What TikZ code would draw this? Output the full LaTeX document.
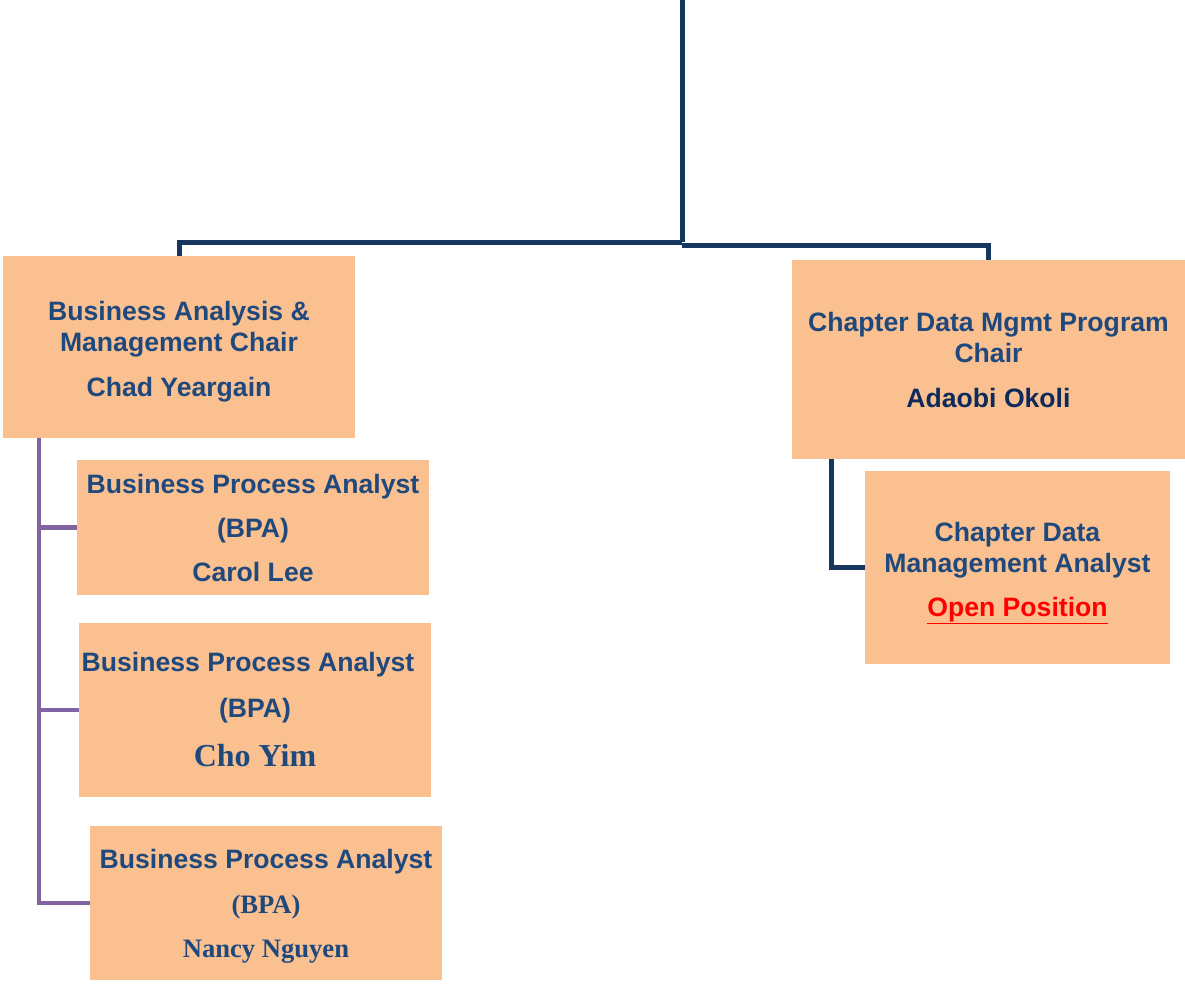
\documentclass[tikz,border=0pt]{standalone}
\usepackage{fontspec}
\setmainfont{Liberation Sans}
\newfontfamily\timesfont{Liberation Serif}
\usepackage{tikz}
\definecolor{boxfill}{HTML}{FAC090}
\definecolor{titleblue}{HTML}{1F497D}
\definecolor{nameblue}{HTML}{0E2A5C}
\definecolor{linenavy}{HTML}{17375E}
\definecolor{linepurple}{HTML}{8064A2}

\begin{document}
\begin{tikzpicture}[x=1pt, y=-1pt,
    box/.style={fill=boxfill, inner sep=0pt, align=center, text=titleblue,
        font=\bfseries\fontsize{26.6}{31}\selectfont},
    navyline/.style={draw=linenavy, line width=5pt},
    purpleline/.style={draw=linepurple, line width=4.5pt}]
    \useasboundingbox (0,0) rectangle (1185,983);

    % chairs
    \node[box, minimum width=352pt, minimum height=182pt] (bam) at (179,347)
        {\rule{0pt}{29pt}Business Analysis \&\\ Management Chair\\[14pt] Chad Yeargain};
    \node[box, minimum width=393pt, minimum height=199pt] (cdm) at (988.5,359.5)
        {Chapter Data Mgmt Program\\ Chair\\[14pt] {\color{nameblue}Adaobi Okoli}};

    % analysts
    \node[box, minimum width=352pt, minimum height=135pt] (bpa1) at (253,527.5)
        {\rule{0pt}{21pt}Business Process Analyst\\[13pt] (BPA)\\[13pt] Carol Lee};
    \node[box, minimum width=352pt, minimum height=174pt] (bpa2) at (255,710)
        {\hspace*{-14pt}Business Process Analyst\\[15pt] (BPA)\\[18pt]
         {\timesfont\fontsize{32}{31}\selectfont Cho Yim}};
    \node[box, minimum width=352pt, minimum height=154pt] (bpa3) at (266,903)
        {\rule{0pt}{25pt}Business Process Analyst\\[14pt] {\timesfont (BPA)}\\[13pt]
         {\timesfont Nancy Nguyen}};
    \node[box, minimum width=305pt, minimum height=193pt] (cdma) at (1017.5,567.5)
        {\rule{0pt}{30pt}Chapter Data\\ Management Analyst\\[13pt]
         {\color{red}\underline{Open Position}}};

    % connectors
    \coordinate (top) at (682,0);
    \coordinate (split) at (682,242);
    \draw[navyline] (top) -- (split);
    \draw[navyline] (split) -| (bam.north);
    \draw[navyline] ([yshift=-3pt]split) -| (cdm.north);

    \draw[purpleline] ([xshift=36pt]bam.south west) |- (bpa1.west);
    \draw[purpleline] ([xshift=36pt]bam.south west) |- (bpa2.west);
    \draw[purpleline] ([xshift=36pt]bam.south west) |- (bpa3.west);

    \draw[navyline] ([xshift=40pt]cdm.south west) |- (cdma.west);
\end{tikzpicture}
\end{document}
